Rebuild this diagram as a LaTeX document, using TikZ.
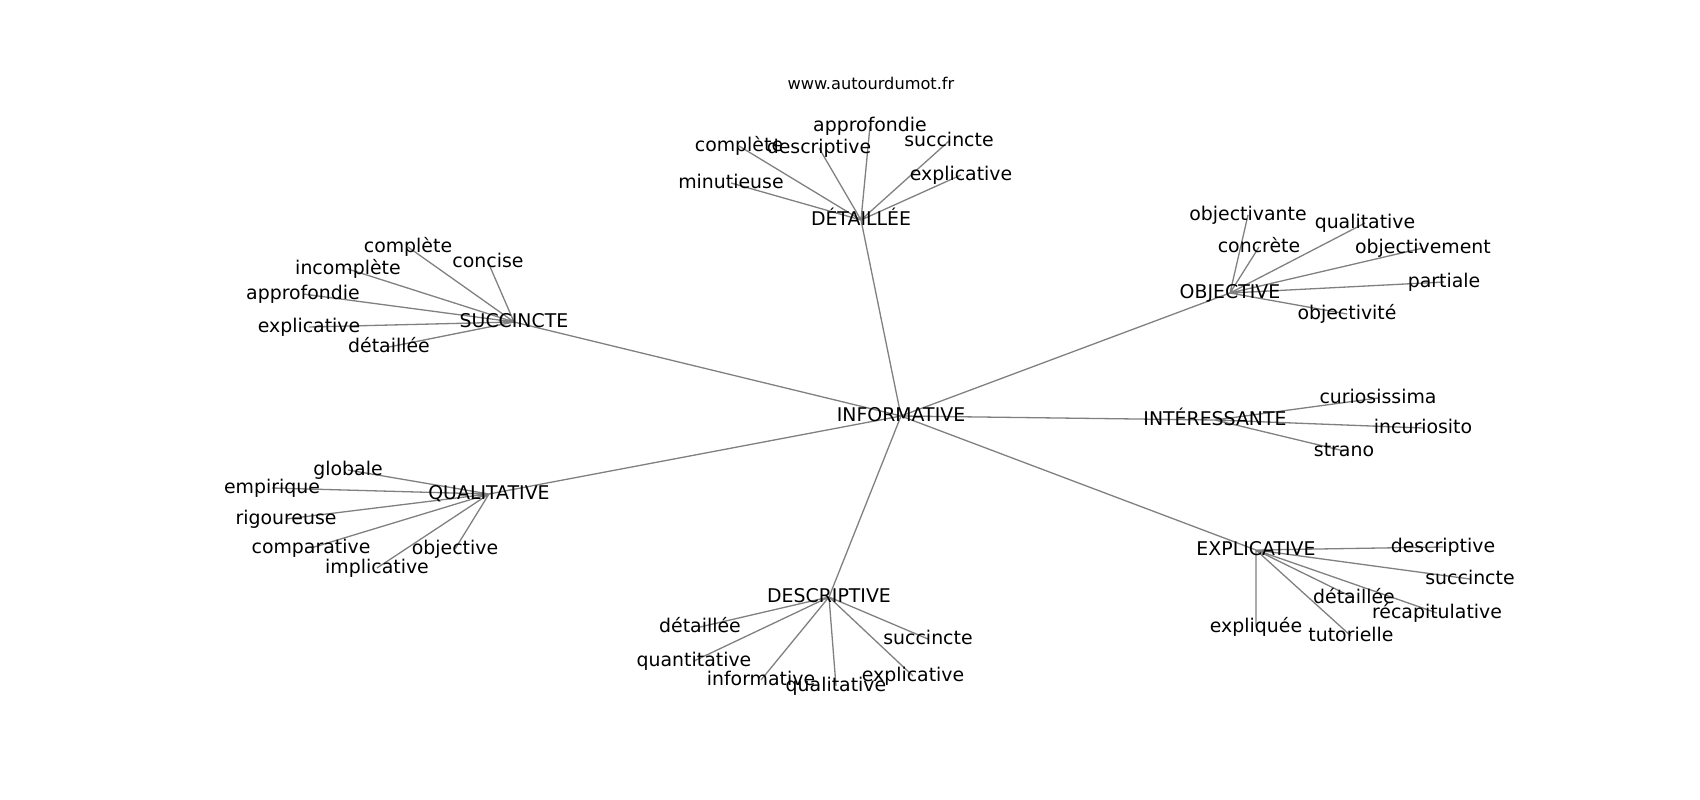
\documentclass[tikz,border=0pt]{standalone}
\usepackage{fontspec}
\setmainfont{DejaVu Sans}
\usetikzlibrary{backgrounds}

\tikzstyle{word} = [inner sep=0pt, text height=14.4pt, text depth=4pt, font=\fontsize{18.9}{22}\selectfont]
\tikzstyle{link} = [draw=gray, line width=1.3pt]

\begin{document}
\begin{tikzpicture}[x=1pt, y=-1pt]
		\useasboundingbox (0,0) rectangle (1700,800);
		% Title
		\node (title) [font=\fontsize{16.2}{19}\selectfont] at (871,83) {www.autourdumot.fr};
		% Nodes
		\node (informative) [word] at (901,416) {INFORMATIVE};
		\node (detaillee) [word] at (861,220) {DÉTAILLÉE};
		\node (succincte) [word] at (514,322) {SUCCINCTE};
		\node (qualitative) [word] at (489,494) {QUALITATIVE};
		\node (descriptive) [word] at (829,597) {DESCRIPTIVE};
		\node (explicative) [word] at (1256,550) {EXPLICATIVE};
		\node (interessante) [word] at (1215,420) {INTÉRESSANTE};
		\node (objective) [word] at (1230,293) {OBJECTIVE};
		% detaillee
		\node (dapprofondie) [word] at (870,126) {approfondie};
		\node (dcomplete) [word] at (739,146) {complète};
		\node (ddescriptive) [word] at (819,148) {descriptive};
		\node (dminutieuse) [word] at (731,183) {minutieuse};
		\node (dsuccincte) [word] at (949,141) {succincte};
		\node (dexplicative) [word] at (961,175) {explicative};
		% succincte
		\node (scomplete) [word] at (408,247) {complète};
		\node (sconcise) [word] at (488,262) {concise};
		\node (sincomplete) [word] at (348,269) {incomplète};
		\node (sapprofondie) [word] at (303,294) {approfondie};
		\node (sexplicative) [word] at (309,327) {explicative};
		\node (sdetaillee) [word] at (389,347) {détaillée};
		% qualitative
		\node (qglobale) [word] at (348,470) {globale};
		\node (qempirique) [word] at (272,488) {empirique};
		\node (qrigoureuse) [word] at (286,519) {rigoureuse};
		\node (qcomparative) [word] at (311,548) {comparative};
		\node (qimplicative) [word] at (377,568) {implicative};
		\node (qobjective) [word] at (455,549) {objective};
		% descriptive
		\node (edetaillee) [word] at (700,627) {détaillée};
		\node (equantitative) [word] at (694,661) {quantitative};
		\node (einformative) [word] at (761,680) {informative};
		\node (equalitative) [word] at (836,686) {qualitative};
		\node (eexplicative) [word] at (913,676) {explicative};
		\node (esuccincte) [word] at (928,639) {succincte};
		% explicative
		\node (xdescriptive) [word] at (1443,547) {descriptive};
		\node (xsuccincte) [word] at (1470,579) {succincte};
		\node (xdetaillee) [word] at (1354,598) {détaillée};
		\node (xrecapitulative) [word] at (1437,613) {récapitulative};
		\node (xexpliquee) [word] at (1256,627) {expliquée};
		\node (xtutorielle) [word] at (1351,636) {tutorielle};
		% interessante
		\node (icuriosissima) [word] at (1378,398) {curiosissima};
		\node (iincuriosito) [word] at (1423,428) {incuriosito};
		\node (istrano) [word] at (1344,451) {strano};
		% objective
		\node (oobjectivante) [word] at (1248,215) {objectivante};
		\node (oconcrete) [word] at (1259,247) {concrète};
		\node (oqualitative) [word] at (1365,223) {qualitative};
		\node (oobjectivement) [word] at (1423,248) {objectivement};
		\node (opartiale) [word] at (1444,282) {partiale};
		\node (oobjectivite) [word] at (1347,314) {objectivité};
		% Edges
		\begin{scope}[on background layer]
		\draw [link] (informative.center) -- (detaillee.center) (informative.center) -- (succincte.center) (informative.center) -- (qualitative.center) (informative.center) -- (descriptive.center) (informative.center) -- (explicative.center) (informative.center) -- (interessante.center) (informative.center) -- (objective.center);
		\draw [link] (detaillee.center) -- (dapprofondie.center) (detaillee.center) -- (dcomplete.center) (detaillee.center) -- (ddescriptive.center) (detaillee.center) -- (dminutieuse.center) (detaillee.center) -- (dsuccincte.center) (detaillee.center) -- (dexplicative.center);
		\draw [link] (succincte.center) -- (scomplete.center) (succincte.center) -- (sconcise.center) (succincte.center) -- (sincomplete.center) (succincte.center) -- (sapprofondie.center) (succincte.center) -- (sexplicative.center) (succincte.center) -- (sdetaillee.center);
		\draw [link] (qualitative.center) -- (qglobale.center) (qualitative.center) -- (qempirique.center) (qualitative.center) -- (qrigoureuse.center) (qualitative.center) -- (qcomparative.center) (qualitative.center) -- (qimplicative.center) (qualitative.center) -- (qobjective.center);
		\draw [link] (descriptive.center) -- (edetaillee.center) (descriptive.center) -- (equantitative.center) (descriptive.center) -- (einformative.center) (descriptive.center) -- (equalitative.center) (descriptive.center) -- (eexplicative.center) (descriptive.center) -- (esuccincte.center);
		\draw [link] (explicative.center) -- (xdescriptive.center) (explicative.center) -- (xsuccincte.center) (explicative.center) -- (xdetaillee.center) (explicative.center) -- (xrecapitulative.center) (explicative.center) -- (xexpliquee.center) (explicative.center) -- (xtutorielle.center);
		\draw [link] (interessante.center) -- (icuriosissima.center) (interessante.center) -- (iincuriosito.center) (interessante.center) -- (istrano.center);
		\draw [link] (objective.center) -- (oobjectivante.center) (objective.center) -- (oconcrete.center) (objective.center) -- (oqualitative.center) (objective.center) -- (oobjectivement.center) (objective.center) -- (opartiale.center) (objective.center) -- (oobjectivite.center);
		\end{scope}
	\end{tikzpicture}
\end{document}
